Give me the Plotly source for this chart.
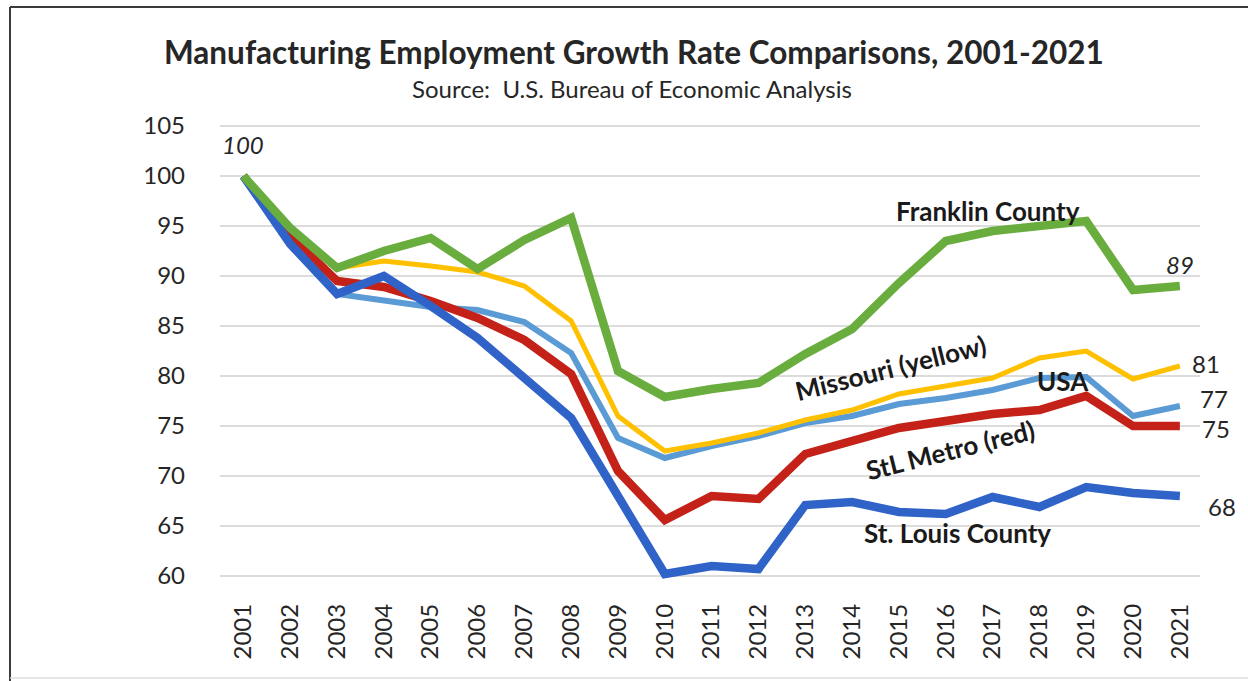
import plotly.graph_objects as go

# Manufacturing employment index (2001 = 100)
years = list(range(2001, 2022))
franklin = [100, 94.8, 90.8, 92.5, 93.8, 90.7, 93.6, 95.8, 80.5, 77.9, 78.7,
            79.3, 82.2, 84.7, 89.3, 93.5, 94.5, 95.0, 95.5, 88.6, 89.0]
missouri = [100, 94.3, 90.8, 91.5, 91.0, 90.4, 89.0, 85.5, 76.0, 72.5, 73.3,
            74.3, 75.6, 76.6, 78.2, 79.0, 79.8, 81.8, 82.5, 79.7, 81.0]
usa = [100, 93.5, 88.2, 87.6, 86.9, 86.6, 85.4, 82.3, 73.8, 71.8, 73.0,
       74.0, 75.3, 76.0, 77.2, 77.8, 78.6, 79.8, 79.9, 76.0, 77.0]
stl_metro = [100, 94.0, 89.5, 88.9, 87.5, 85.8, 83.6, 80.2, 70.5, 65.6, 68.0,
             67.7, 72.2, 73.5, 74.8, 75.5, 76.2, 76.6, 78.0, 75.0, 75.0]
stl_county = [100, 93.2, 88.2, 90.0, 87.0, 83.8, 79.8, 75.8, 68.0, 60.2, 61.0,
              60.7, 67.1, 67.4, 66.4, 66.2, 67.9, 66.9, 68.9, 68.3, 68.0]

y_ticks = [60, 65, 70, 75, 80, 85, 90, 95, 100, 105]
x_labels = [str(y) for y in years]

W_PX, H_PX = 1248, 681
L, R, T, B = 220, 48, 116, 85
PW, PH = W_PX - L - R, H_PX - T - B

FONT = "Lato"
TEXT = "#262626"


def px(x):
    return (x - L) / PW


def py(y):
    return 1 - (y - T) / PH


fig = go.Figure()

series = [
    ("USA", usa, "#5B9BD5", 6),
    ("Missouri", missouri, "#FFC000", 5),
    ("StL Metro", stl_metro, "#C42118", 8.5),
    ("St. Louis County", stl_county, "#2F63C8", 8.5),
    ("Franklin County", franklin, "#6AAD3F", 8.5),
]
for name, vals, color, width in series:
    fig.add_trace(go.Scatter(
        x=years, y=vals, mode="lines", name=name,
        line=dict(color=color, width=width),
        hoverinfo="x+y+name",
    ))

annotations = []

# starting value label
annotations.append(dict(
    x=years[0], y=franklin[0], text=f"<i>{franklin[0]:.0f}</i>",
    showarrow=False, yshift=32, font=dict(family=FONT, size=24, color=TEXT),
))

# end-of-line value labels
end_labels = [
    (franklin, 0, 22, True),
    (missouri, 26, 3, False),
    (usa, 34, 8, False),
    (stl_metro, 36, -2, False),
    (stl_county, 42, -10, False),
]
for vals, dx, dy, italic in end_labels:
    txt = f"{vals[-1]:.0f}"
    if italic:
        txt = f"<i>{txt}</i>"
    annotations.append(dict(
        x=years[-1], y=vals[-1], text=txt, showarrow=False,
        xshift=dx, yshift=dy, font=dict(family=FONT, size=24, color=TEXT),
    ))

# series name labels
name_labels = [
    ("<b>Franklin County</b>", 988, 211, 0),
    ("<b>Missouri (yellow)</b>", 890, 368, -14),
    ("<b>USA</b>", 1063, 381, 0),
    ("<b>StL Metro (red)</b>", 950, 450, -14),
    ("<b>St. Louis County</b>", 957, 533, 0),
]
for txt, x0, y0, ang in name_labels:
    annotations.append(dict(
        xref="paper", yref="paper", x=px(x0), y=py(y0), text=txt,
        showarrow=False, textangle=ang, xanchor="center", yanchor="middle",
        font=dict(family=FONT, size=26, color="#1a1a1a"),
    ))

# title and source line
annotations.append(dict(
    xref="paper", yref="paper", x=px(634), y=py(52),
    text="<b>Manufacturing Employment Growth Rate Comparisons, 2001-2021</b>",
    showarrow=False, xanchor="center", yanchor="middle",
    font=dict(family=FONT, size=31.5, color=TEXT),
))
annotations.append(dict(
    xref="paper", yref="paper", x=px(632), y=py(88),
    text="Source:  U.S. Bureau of Economic Analysis",
    showarrow=False, xanchor="center", yanchor="middle",
    font=dict(family=FONT, size=24, color=TEXT),
))

# chart frame (left and top edges)
shapes = [
    dict(type="line", xref="paper", yref="paper",
         x0=px(10), x1=px(10), y0=py(7), y1=py(681),
         line=dict(color="#3a3a3a", width=2)),
    dict(type="line", xref="paper", yref="paper",
         x0=px(10), x1=px(1260), y0=py(7), y1=py(7),
         line=dict(color="#3a3a3a", width=2)),
    dict(type="line", xref="paper", yref="paper",
         x0=px(10), x1=px(1260), y0=py(678), y1=py(678),
         line=dict(color="#dddddd", width=1.5)),
]

fig.update_layout(
    width=W_PX, height=H_PX,
    margin=dict(l=L, r=R, t=T, b=B, pad=0),
    paper_bgcolor="white", plot_bgcolor="white",
    showlegend=False,
    annotations=annotations,
    shapes=shapes,
    font=dict(family=FONT, color=TEXT),
)
fig.update_xaxes(
    range=[2000.5, 2021.43], tickmode="array", tickvals=years,
    ticktext=x_labels, tickangle=-90, showgrid=False, zeroline=False,
    showline=False, ticks="", tickfont=dict(family=FONT, size=24, color=TEXT),
    ticklabelstandoff=2,
)
fig.update_yaxes(
    range=[58, 106], tickmode="array", tickvals=y_ticks,
    showgrid=True, gridcolor="#dcdcdc", gridwidth=1.5, zeroline=False,
    showline=False, ticks="", tickfont=dict(family=FONT, size=24, color=TEXT),
    ticklabelstandoff=34,
)

fig.write_html("out.html")
